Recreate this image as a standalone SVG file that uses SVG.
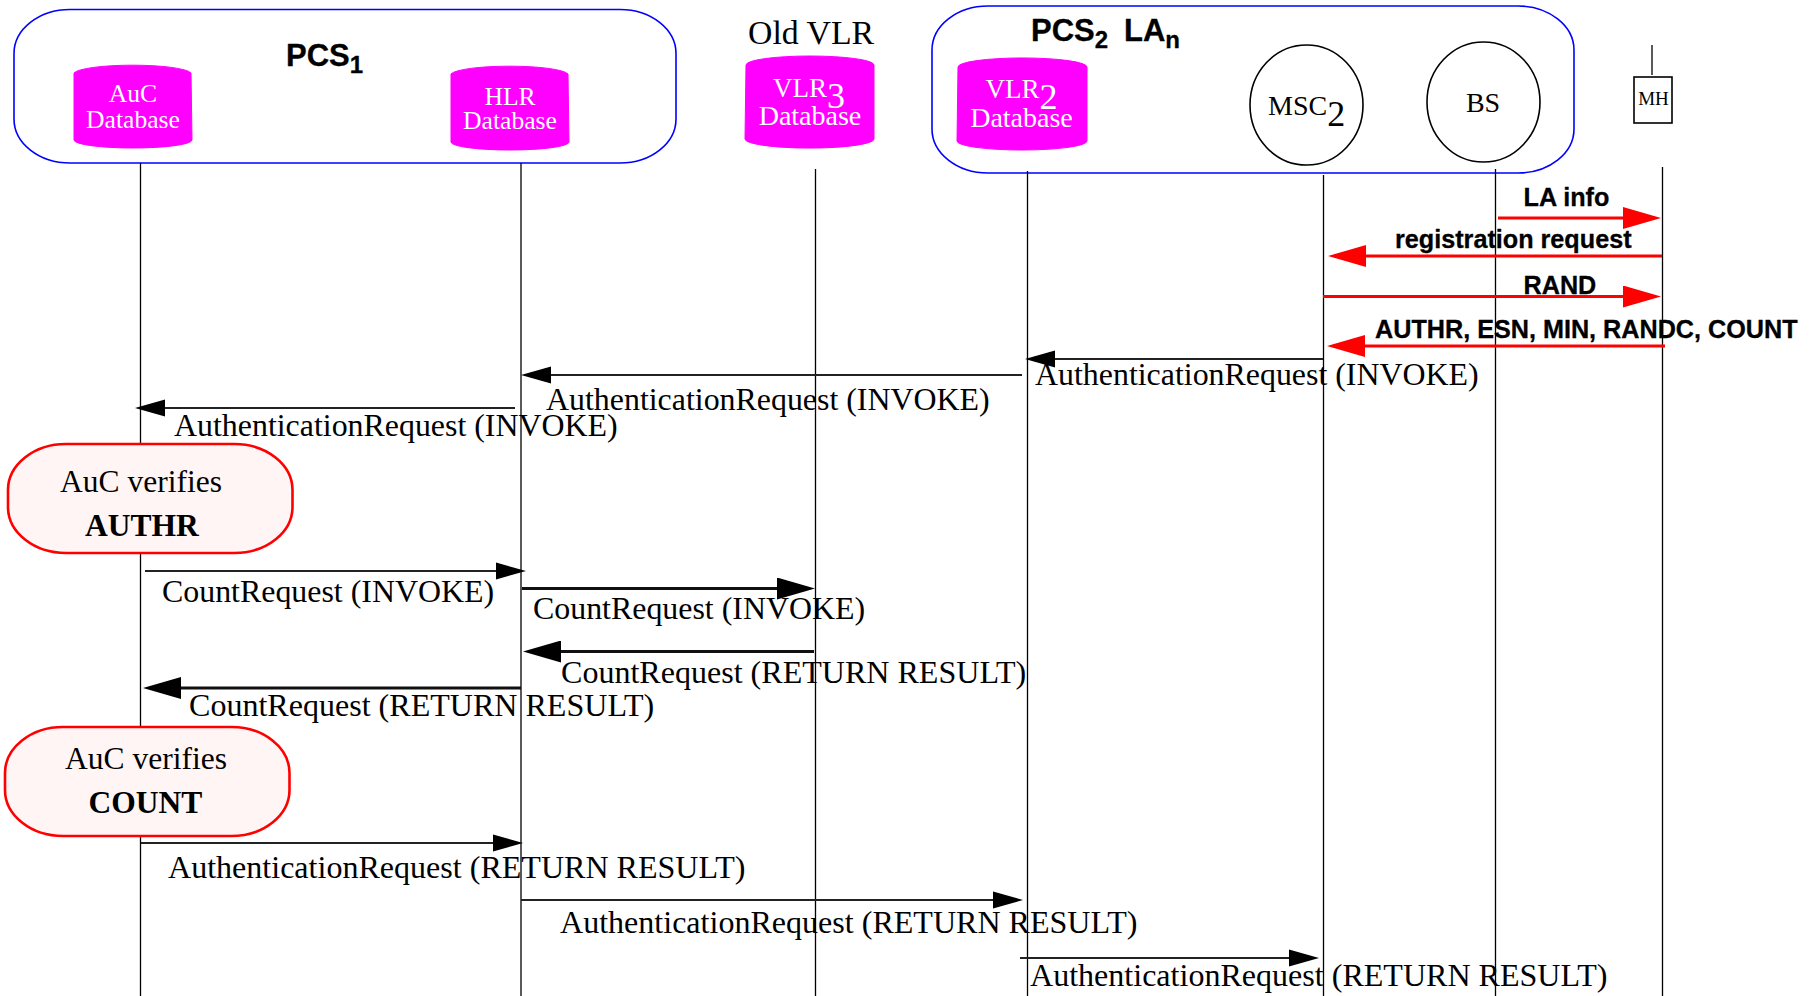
<svg xmlns="http://www.w3.org/2000/svg" width="1809" height="996" viewBox="0 0 1809 996">
<style>
text{font-family:"Liberation Serif","Times New Roman",serif;fill:#000}
.lab{font-size:31.900px}
.ret{font-size:32.050px}
.sans{font-family:"Liberation Sans",Arial,sans-serif;font-weight:bold;stroke:#000;stroke-width:.3}
.rl{font-size:25.200px}
.hd{font-size:31px}
.sub{font-size:24px}
.db{fill:#f0f;stroke:#f0f;stroke-width:1}
.dbt{fill:#fff;font-size:25.600px;text-anchor:middle}
.grp{fill:#fff;stroke:#00f;stroke-width:1.6}
.ver{fill:#fff5f5;stroke:#f00;stroke-width:2.6}
.vt{font-size:31.500px;text-anchor:middle}
.b{font-weight:bold}
.nd{fill:#fff;stroke:#000;stroke-width:1.6}
.life{stroke:#000;stroke-width:1.300;fill:none}
.a1{stroke:#222;stroke-width:1.8;marker-end:url(#hs)}
.a2{stroke:#111;stroke-width:3;marker-end:url(#hl)}
.ar{stroke:#f00;stroke-width:3;marker-end:url(#hr)}
</style>
<defs>
<marker id="hs" markerUnits="userSpaceOnUse" markerWidth="30" markerHeight="18" refX="24" refY="9" orient="auto" viewBox="0 0 30 18"><path d="M0,0.5L30,9L0,17.5z" fill="#000"/></marker>
<marker id="hl" markerUnits="userSpaceOnUse" markerWidth="38" markerHeight="22" refX="32" refY="11" orient="auto" viewBox="0 0 38 22"><path d="M0,0L38,11L0,22z" fill="#000"/></marker>
<marker id="hr" markerUnits="userSpaceOnUse" markerWidth="38" markerHeight="22" refX="32" refY="11" orient="auto" viewBox="0 0 38 22"><path d="M0,0L38,11L0,22z" fill="#f00"/></marker>
</defs>

<g id="pcs1"><rect class="grp" x="14" y="9.500" width="662" height="153.500" rx="56" ry="44"/>
<text class="sans hd" x="286" y="66">PCS<tspan class="sub" dy="7">1</tspan></text></g>
<g id="auc"><path class="db" d="M74,73A59,9 0 0 1 191,73L192,140A59,8 0 0 1 74,140z"/>
<text class="dbt" x="133" y="102">AuC</text><text class="dbt" x="133" y="128">Database</text></g>
<g id="hlr"><path class="db" d="M451,74A59,9 0 0 1 568,74L569,142A59,8 0 0 1 451,142z"/>
<text class="dbt" x="510" y="105">HLR</text><text class="dbt" x="510" y="129">Database</text></g>
<g id="oldvlr"><text x="748" y="44" font-size="33.800">Old VLR</text>
<path class="db" d="M746,65A64,9 0 0 1 874,65L874,139A64,9 0 0 1 745,139z"/>
<text x="773" y="97" style="fill:#fff;font-size:27px">VLR<tspan dy="11" style="font-size:36px">3</tspan></text>
<text class="dbt" x="810" y="125" style="font-size:28px">Database</text></g>
<g id="pcs2"><rect class="grp" x="932" y="6" width="642" height="167" rx="56" ry="44"/>
<text class="sans hd" x="1031" y="41">PCS<tspan class="sub" dy="7">2</tspan><tspan dy="-7" x="1124">LA</tspan><tspan class="sub" dy="7">n</tspan></text></g>
<g id="vlr2"><path class="db" d="M958,67A64,9 0 0 1 1087,67L1087,141A65,9 0 0 1 957,141z"/>
<text x="985.500" y="98" style="fill:#fff;font-size:27px">VLR<tspan dy="11" style="font-size:36px">2</tspan></text>
<text class="dbt" x="1021.500" y="127" style="font-size:28px">Database</text></g>
<g id="msc2"><ellipse class="nd" cx="1306.500" cy="105" rx="56.500" ry="60"/>
<text x="1268" y="115" font-size="28">MSC<tspan dy="11" font-size="36">2</tspan></text></g>
<g id="bs"><ellipse class="nd" cx="1483.500" cy="102" rx="56.500" ry="60"/>
<text x="1483" y="112" font-size="28" text-anchor="middle">BS</text></g>
<g id="mh"><line class="life" x1="1652" y1="45" x2="1652" y2="75"/><rect class="nd" x="1634" y="77" width="38" height="46"/>
<text x="1653.500" y="105" font-size="19" text-anchor="middle">MH</text></g>

<g id="lifelines">
<line class="life" x1="140.500" y1="163" x2="140.500" y2="996"/>
<line class="life" x1="521" y1="163" x2="521" y2="996"/>
<line class="life" x1="815.500" y1="169" x2="815.500" y2="996"/>
<line class="life" x1="1027.500" y1="171" x2="1027.500" y2="996"/>
<line class="life" x1="1323.500" y1="175" x2="1323.500" y2="996"/>
<line class="life" x1="1495.500" y1="169" x2="1495.500" y2="996"/>
<line class="life" x1="1662.500" y1="167" x2="1662.500" y2="996"/>
</g>

<g id="auth-verify"><rect class="ver" x="8" y="444" width="284.500" height="109" rx="58" ry="46"/>
<text class="vt" x="141" y="492">AuC verifies</text><text class="vt b" x="142" y="536">AUTHR</text></g>
<g id="count-verify"><rect class="ver" x="5" y="727" width="284.500" height="109" rx="58" ry="46"/>
<text class="vt" x="146" y="769">AuC verifies</text><text class="vt b" x="145.500" y="813">COUNT</text></g>

<g id="connectors">
<line class="ar" x1="1498" y1="218" x2="1655" y2="218"/>
<line class="ar" x1="1662" y1="256" x2="1334" y2="256"/>
<line class="ar" x1="1323" y1="296.500" x2="1655" y2="296.500"/>
<line class="ar" x1="1665" y1="346" x2="1333" y2="346"/>
<line class="a1" x1="1323" y1="359" x2="1031" y2="359"/>
<line class="a1" x1="1022" y1="375" x2="527" y2="375"/>
<line class="a1" x1="515" y1="408" x2="141" y2="408"/>
<line class="a1" x1="145" y1="571" x2="520" y2="571"/>
<line class="a2" x1="522" y1="588.500" x2="809" y2="588.500"/>
<line class="a2" x1="814" y1="651.500" x2="529" y2="651.500"/>
<line class="a2" x1="521" y1="688" x2="149" y2="688"/>
<line class="a1" x1="141" y1="843" x2="517" y2="843"/>
<line class="a1" x1="521" y1="900" x2="1017" y2="900"/>
<line class="a1" x1="1020" y1="958" x2="1313" y2="958"/>
</g>

<g id="labels">
<text class="sans rl" x="1523.500" y="206">LA info</text>
<text class="sans rl" x="1395" y="248">registration request</text>
<text class="sans rl" x="1523.500" y="293.500">RAND</text>
<text class="sans rl" x="1375" y="338">AUTHR, ESN, MIN, RANDC, COUNT</text>
<text class="lab" x="1035" y="385">AuthenticationRequest (INVOKE)</text>
<text class="lab" x="546" y="410">AuthenticationRequest (INVOKE)</text>
<text class="lab" x="174" y="436">AuthenticationRequest (INVOKE)</text>
<text class="lab" x="162" y="602">CountRequest (INVOKE)</text>
<text class="lab" x="533" y="619">CountRequest (INVOKE)</text>
<text class="ret" x="561" y="683">CountRequest (RETURN RESULT)</text>
<text class="ret" x="189" y="716">CountRequest (RETURN RESULT)</text>
<text class="ret" x="168" y="878">AuthenticationRequest (RETURN RESULT)</text>
<text class="ret" x="560" y="933">AuthenticationRequest (RETURN RESULT)</text>
<text class="ret" x="1030" y="986">AuthenticationRequest (RETURN RESULT)</text>
</g>
</svg>
